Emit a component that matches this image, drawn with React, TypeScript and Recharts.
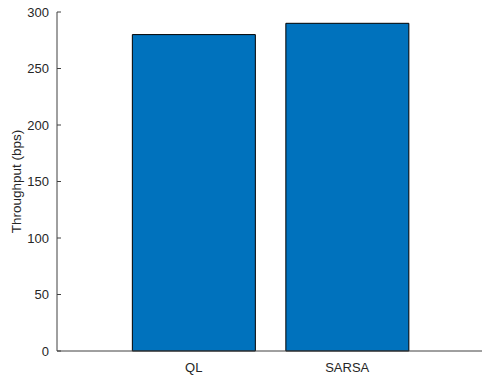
import { Bar, BarChart, XAxis, YAxis, Label } from "recharts";

const methods = ["QL", "SARSA"];
const throughput = [280, 290];
const yTicks = [0, 50, 100, 150, 200, 250, 300];

const data = methods.map((method, i) => ({ method, throughput: throughput[i] }));

const FONT = "'Liberation Sans', Arial, sans-serif";
const TEXT = "#262626";
const AXIS = "#404040";

// y ticks point into the plot, labels sit left of the axis
function YTick(props: any) {
  const { x, y, payload } = props;
  return (
    <g>
      <line x1={x} y1={y} x2={x + 4} y2={y} stroke={AXIS} />
      <text x={x - 8} y={y} dy={4.5} textAnchor="end" fontSize={13} fill={TEXT} fontFamily={FONT}>
        {payload.value}
      </text>
    </g>
  );
}

function XTick(props: any) {
  const { x, y, payload } = props;
  return (
    <text x={x} y={y} dy={19} textAnchor="middle" fontSize={13} fill={TEXT} fontFamily={FONT}>
      {payload.value}
    </text>
  );
}

export default function App() {
  return (
    <div
      style={{
        position: "absolute",
        left: 0,
        top: 0,
        width: 482,
        height: 376,
        overflow: "hidden",
        background: "#fff",
      }}
    >
      <BarChart
        width={490}
        height={376}
        data={data}
        margin={{ top: 12, right: 6, bottom: 5, left: 10 }}
        barCategoryGap="10%"
      >
        <XAxis
          dataKey="method"
          height={20}
          padding={{ left: 60, right: 60 }}
          axisLine={{ stroke: AXIS }}
          tickLine={false}
          tickSize={0}
          tick={<XTick />}
          interval={0}
        />
        <YAxis
          width={47}
          domain={[0, 300]}
          ticks={yTicks}
          axisLine={{ stroke: AXIS }}
          tickLine={false}
          tickSize={0}
          tickMargin={0}
          tick={<YTick />}
        >
          <Label
            value="Throughput (bps)"
            angle={-90}
            position="insideLeft"
            offset={6}
            style={{ textAnchor: "middle", fontSize: 13.5, fill: TEXT, fontFamily: FONT }}
          />
        </YAxis>
        <Bar dataKey="throughput" fill="#0072BD" stroke="#000" strokeWidth={1} isAnimationActive={false} />
      </BarChart>
    </div>
  );
}
